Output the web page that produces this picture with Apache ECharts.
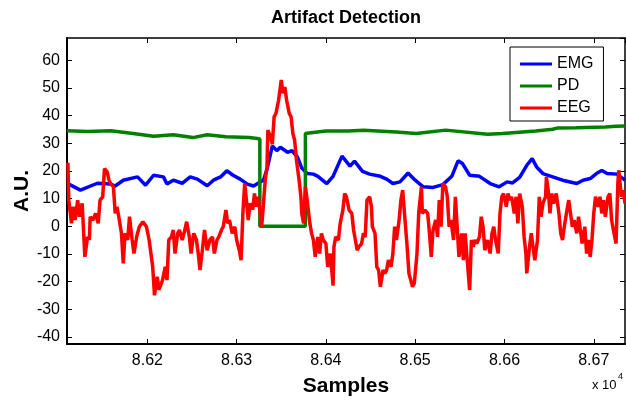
<!DOCTYPE html>
<html><head><meta charset="utf-8">
<script src="https://cdn.jsdelivr.net/npm/echarts@6/dist/echarts.min.js"></script>
<style>html,body{margin:0;padding:0;background:#fff}#c{width:626px;height:402px}</style>
</head><body><div id="c"></div>
<script>
// ---- data ----
const seriesNames = ['EMG', 'PD', 'EEG'];
const xTicks = [86200, 86300, 86400, 86500, 86600, 86700];
const xTickLabels = ['8.62', '8.63', '8.64', '8.65', '8.66', '8.67'];
const yTicks = [-40, -30, -20, -10, 0, 10, 20, 30, 40, 50, 60];

const emgSamples = [86112,86125,86144,86159,86164,86173,86189,86198,86207,86218,86222,86229,86239,86248,86256,86267,86274,86282,86289,86296,86304,86312,86319,86324,86330,86334,86340,86345,86349,86357,86362,86368,86373,86379,86386,86391,86401,86408,86418,86427,86432,86441,86449,86461,86468,86475,86483,86492,86500,86509,86520,86531,86541,86548,86553,86561,86572,86584,86594,86603,86609,86617,86625,86631,86636,86643,86654,86665,86681,86688,86696,86703,86709,86715,86726,86735];
const emgValues = [15.2,13,15.5,15.2,14.5,16.6,17.8,14.8,18.4,17.8,15.2,16.6,15.5,17.8,17,14.6,16.6,17.8,20,18.4,17,15.2,14.5,15.5,16.6,20.5,29,27.3,28.5,26.7,27.3,25,21,19,18.8,18,15.4,18,25.3,21.7,23.5,19.8,18.8,18,17,15.4,16,19.2,16.6,14.2,14,15,18,23.6,22.6,18.4,18,15.4,14.2,16,15.6,17.6,22,24.4,21.4,19,17.8,16.6,15.4,16.6,17.2,19,20.1,19,18.8,16.6];

const pdSamples = [86110,86133,86159,86184,86207,86229,86251,86267,86288,86314,86323,86326,86326,86377,86377,86381,86400,86425,86442,86479,86501,86534,86581,86598,86635,86654,86660,86680,86713,86725,86735];
const pdValues = [34.5,34.2,34.5,33.5,32.5,33,32,33,32.3,32,31.7,31.5,0,0,33.5,33.7,34.4,34.4,34.7,34,33.5,34.7,33.2,33.5,34.4,35,35.5,35.6,35.8,36.1,36.2];

const eegSamples = [86111,86112,86115,86117,86119,86122,86124,86127,86130,86133,86135,86136,86139,86142,86145,86147,86150,86152,86155,86157,86159,86162,86164,86166,86168,86171,86173,86175,86178,86180,86183,86185,86188,86191,86195,86199,86202,86204,86206,86208,86211,86213,86217,86220,86222,86224,86227,86229,86231,86234,86236,86239,86242,86244,86247,86249,86252,86255,86257,86259,86262,86264,86267,86270,86273,86275,86278,86280,86283,86285,86288,86290,86292,86295,86298,86300,86303,86305,86307,86309,86311,86313,86315,86318,86320,86322,86324,86326,86328,86329,86332,86334,86335,86338,86340,86342,86344,86347,86350,86352,86354,86356,86359,86361,86363,86365,86367,86370,86372,86373,86375,86377,86379,86382,86384,86386,86388,86391,86393,86395,86397,86400,86402,86405,86408,86409,86411,86414,86416,86419,86421,86423,86426,86429,86431,86433,86435,86437,86440,86442,86444,86446,86449,86451,86452,86455,86457,86459,86461,86464,86466,86468,86470,86473,86475,86477,86479,86482,86484,86486,86488,86491,86493,86495,86497,86499,86502,86504,86507,86508,86511,86514,86516,86518,86520,86523,86525,86527,86529,86531,86534,86536,86538,86540,86543,86545,86547,86549,86552,86554,86556,86558,86561,86563,86565,86567,86569,86572,86574,86576,86578,86581,86584,86586,86588,86590,86593,86595,86597,86599,86602,86604,86606,86608,86611,86613,86615,86617,86620,86622,86624,86625,86628,86630,86632,86634,86637,86639,86641,86643,86646,86647,86649,86651,86653,86655,86658,86661,86663,86665,86667,86670,86672,86674,86676,86678,86681,86683,86685,86687,86690,86692,86694,86696,86698,86700,86702,86705,86707,86709,86711,86713,86716,86718,86720,86722,86725,86727,86728,86731,86733,86735];
const eegValues = [22.9,9.4,1,7,2.2,9.4,3.4,8.2,-11.1,-3.9,-5,3.4,2.2,4.6,1,9.4,10.6,20.8,19.6,16.6,15.4,14.2,4.6,7,3.4,-2.6,-13.5,-2.6,-5,3.4,-5,-9.9,-3.9,-0.2,1.6,-0.2,-5,-9.9,-14.7,-25,-18.3,-23,-19.5,-14.7,-19.5,-5,-3.9,-1.4,-9.9,-2.6,-1.4,-5,-1.4,1.6,-3.9,-9.9,-2.6,-5,-9.9,-15.9,-7.5,-1.4,-8.7,-5,-3.9,-9.9,-5,-3.9,-1.4,-0.2,5.8,1,2.2,-2.6,-0.2,-5,-8.7,-12.3,4.6,15.4,9.4,2.2,8.2,6,11.8,7,10.6,5.8,-0.2,3.4,16.6,21.4,34.7,32.3,29.6,39.5,40.7,45.5,52.8,48,50.3,45.5,40.7,39.5,33.5,31,23.9,16.6,10.6,4.6,1,14.2,9.4,1,-2.6,-5,-11.1,-3.9,-9.9,-2.6,-5,-6.3,-14.7,-9.9,-21.5,-7.5,-3.9,-5,1,5.8,11.8,10.6,5.8,4.6,-1.4,-5,-8.7,-7.5,-6.3,-2.6,-4,9.4,10.6,7,-0.2,-2.6,-14.7,-15.9,-21.9,-15.9,-17.1,-15.9,-12.3,-14.7,-9.9,-0.2,-5,2.2,9.4,13,4.6,-7.5,-17.1,-19.5,-21.9,-20.7,-10,5,14.2,4.6,5.8,4.6,-2.6,-11.1,-1.4,2.2,-3.9,9.4,-0.2,15.4,14.2,10.6,-0.2,2.2,-5,10.6,-0.2,-11.1,-2.6,-12.3,-2.6,-11.1,-23.1,-5,-7.5,-5,-6.3,-3.9,3.4,-0.2,-8.7,-5,-9.9,-2.6,-0.2,-5,-9.9,4.6,10.6,11.8,7,11.8,9.4,10.6,4.6,10.6,1,11.8,7,-3.9,-9.9,-17.1,-7.5,-2.6,-7.5,-12.3,-5,10.6,3.4,8.2,10.6,17.8,13,4.6,11.8,8.2,11.8,4.6,-2.6,-5,-0.2,5.8,9.4,4.6,-0.2,2.2,-2.6,3.4,-1.4,-6.3,-0.2,-9.9,-5,-11.1,-5,4.6,10.6,7,10.6,4.6,9.4,3.4,10.6,11.8,2.2,-1.4,-6.3,15.4,20.2,10.6,13,8.2];

const colors = ['#0000ff', '#008000', '#ff0000'];

function zip(xs, ys) { return xs.map((x, i) => [x, ys[i]]); }

const chart = echarts.init(document.getElementById('c'), null, {renderer: 'canvas'});
const FONT = 'Liberation Sans, Arial, Helvetica, sans-serif';
const X_MIN = 86110, X_MAX = 86735, Y_MIN = -42.6, Y_MAX = 68;

const tickStyle = {show: true, inside: true, length: 5, lineStyle: {color: '#000', width: 1}};

chart.setOption({
  animation: false,
  backgroundColor: '#fff',
  title: {
    text: 'Artifact Detection', left: 271, top: 9, padding: 0,
    textStyle: {fontFamily: FONT, fontSize: 18, fontWeight: 'bold', color: '#000'}
  },
  legend: {
    orient: 'vertical', left: 510, top: 47,
    data: seriesNames,
    icon: 'rect', itemWidth: 32, itemHeight: 3, itemGap: 6,
    backgroundColor: '#fff', borderColor: '#000', borderWidth: 1, borderRadius: 0,
    padding: [9, 10, 5, 10],
    selectedMode: false,
    textStyle: {fontFamily: FONT, fontSize: 16, color: '#000', lineHeight: 16}
  },
  grid: {left: 67, right: 1, top: 38, bottom: 58, containLabel: false},
  xAxis: [{
    type: 'value', min: X_MIN, max: X_MAX, minInterval: 100, maxInterval: 100,
    position: 'bottom',
    name: 'Samples', nameLocation: 'middle', nameGap: 32,
    nameTextStyle: {fontFamily: FONT, fontSize: 21, fontWeight: 'bold', color: '#000'},
    axisLine: {show: true, onZero: false, lineStyle: {color: '#000', width: 2}},
    axisTick: tickStyle,
    splitLine: {show: false},
    axisLabel: {
      color: '#000', fontFamily: FONT, fontSize: 16, margin: 9,
      showMinLabel: false, showMaxLabel: false,
      formatter: v => { const i = xTicks.indexOf(Math.round(v)); return i >= 0 ? xTickLabels[i] : ''; }
    }
  }, {
    type: 'value', min: X_MIN, max: X_MAX, minInterval: 100, maxInterval: 100,
    position: 'top',
    axisLine: {show: true, onZero: false, lineStyle: {color: '#000', width: 1.5}},
    axisTick: tickStyle, axisLabel: {show: false}, splitLine: {show: false}
  }],
  yAxis: [{
    type: 'value', min: Y_MIN, max: Y_MAX, minInterval: 10, maxInterval: 10,
    position: 'left',
    axisLine: {show: true, onZero: false, lineStyle: {color: '#000', width: 2}},
    axisTick: tickStyle,
    splitLine: {show: false},
    axisLabel: {
      color: '#000', fontFamily: FONT, fontSize: 16, margin: 7,
      showMinLabel: false, showMaxLabel: false,
      formatter: v => yTicks.indexOf(Math.round(v)) >= 0 && Math.abs(v - Math.round(v)) < 1e-6 ? String(Math.round(v)) : ''
    }
  }, {
    type: 'value', min: Y_MIN, max: Y_MAX, minInterval: 10, maxInterval: 10,
    position: 'right',
    axisLine: {show: true, onZero: false, lineStyle: {color: '#000', width: 1.5}},
    axisTick: tickStyle, axisLabel: {show: false}, splitLine: {show: false}
  }],
  graphic: [{
    type: 'text', x: 22, y: 191, rotation: Math.PI / 2,
    style: {text: 'A.U.', fontFamily: FONT, fontSize: 21, fontWeight: 'bold', fill: '#000',
            align: 'center', verticalAlign: 'middle'}
  }, {
    type: 'text', left: 592, top: 379,
    style: {text: 'x 10', fontFamily: FONT, fontSize: 13, fill: '#000'}
  }, {
    type: 'text', left: 618, top: 372,
    style: {text: '4', fontFamily: FONT, fontSize: 9, fill: '#000'}
  }],
  series: [
    {name: seriesNames[0], type: 'line', data: zip(emgSamples, emgValues), color: colors[0]},
    {name: seriesNames[1], type: 'line', data: zip(pdSamples, pdValues), color: colors[1]},
    {name: seriesNames[2], type: 'line', data: zip(eegSamples, eegValues), color: colors[2]}
  ].map(s => Object.assign(s, {
    showSymbol: false, symbol: 'none', smooth: false, clip: true,
    lineStyle: {width: 3.5, color: s.color}, emphasis: {disabled: true}
  }))
});
</script></body></html>
